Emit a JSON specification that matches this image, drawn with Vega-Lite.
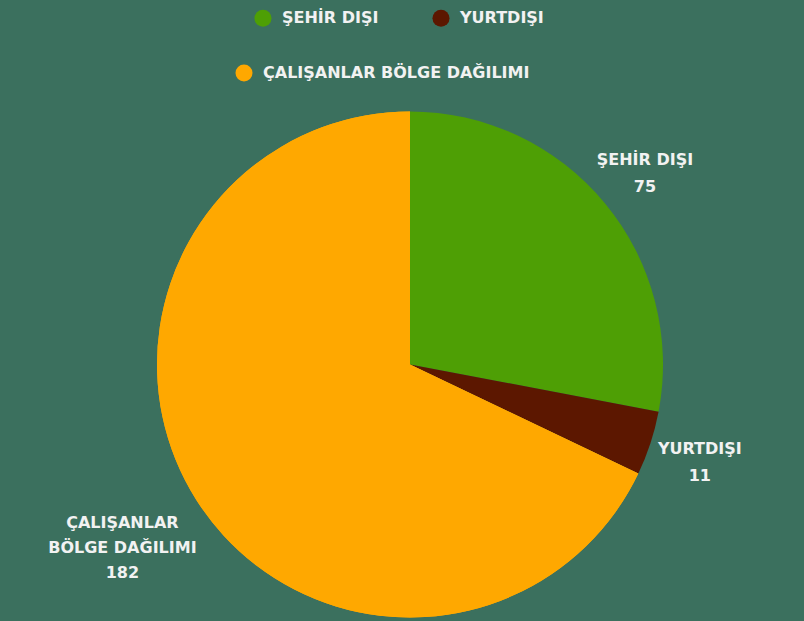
{
  "$schema": "https://vega.github.io/schema/vega-lite/v6.json",
  "width": 788,
  "height": 513,
  "autosize": "none",
  "padding": {"left": 16, "top": 108, "right": 0, "bottom": 0},
  "background": "#3b705e",
  "config": {"view": {"stroke": null}},
  "data": {
    "values": [
      {"name": "ŞEHİR DIŞI", "lbl": "ŞEHİR DIŞI", "value": 75, "ord": 1},
      {"name": "YURTDIŞI", "lbl": "YURTDIŞI", "value": 11, "ord": 2},
      {"name": "ÇALIŞANLAR BÖLGE DAĞILIMI", "lbl": "ÇALIŞANLAR\nBÖLGE DAĞILIMI", "value": 182, "ord": 3}
    ]
  },
  "transform": [
    {"calculate": "datum.lbl + '\\n' + datum.value", "as": "label"},
    {"stack": "value", "groupby": [], "sort": [{"field": "ord", "order": "ascending"}], "as": ["t0", "t1"]},
    {"calculate": "(datum.t0 + datum.t1) / 2", "as": "tm"}
  ],
  "layer": [
    {
      "mark": {"type": "arc", "radius": 253},
      "encoding": {
        "theta": {"field": "t0", "type": "quantitative", "scale": {"domain": [0, 268], "zero": true}},
        "theta2": {"field": "t1"},
        "color": {
          "field": "name",
          "type": "nominal",
          "scale": {
            "domain": ["ŞEHİR DIŞI", "YURTDIŞI", "ÇALIŞANLAR BÖLGE DAĞILIMI"],
            "range": ["#4e9f05", "#5c1700", "#ffa800"]
          },
          "legend": {
            "title": null,
            "values": ["ŞEHİR DIŞI", "YURTDIŞI"],
            "orient": "none",
            "legendX": 238,
            "legendY": -99,
            "direction": "horizontal",
            "columnPadding": 53,
            "symbolType": "circle",
            "symbolSize": 290,
            "symbolStrokeWidth": 0,
            "symbolOpacity": 1,
            "labelFont": "DejaVu Sans",
            "labelFontWeight": "bold",
            "labelFontSize": 16,
            "labelColor": "#f2f2f2",
            "labelOffset": 10,
            "labelLimit": 400
          }
        }
      }
    },
    {
      "transform": [{"filter": "datum.ord == 3"}],
      "mark": {"type": "arc", "radius": 253},
      "encoding": {
        "theta": {"field": "t0", "type": "quantitative", "scale": {"domain": [0, 268], "zero": true}},
        "theta2": {"field": "t1"},
        "fill": {
          "field": "name",
          "type": "nominal",
          "scale": {
            "domain": ["ÇALIŞANLAR BÖLGE DAĞILIMI"],
            "range": ["#ffa800"]
          },
          "legend": {
            "title": null,
            "orient": "none",
            "legendX": 219,
            "legendY": -44,
            "direction": "horizontal",
            "symbolType": "circle",
            "symbolSize": 290,
            "symbolStrokeWidth": 0,
            "symbolOpacity": 1,
            "labelFont": "DejaVu Sans",
            "labelFontWeight": "bold",
            "labelFontSize": 16,
            "labelColor": "#f2f2f2",
            "labelOffset": 10,
            "labelLimit": 400
          }
        }
      }
    },
    {
      "transform": [{"filter": "datum.ord < 3"}],
      "mark": {
        "type": "text",
        "radius": 305,
        "dy": -10,
        "font": "DejaVu Sans",
        "fontWeight": "bold",
        "fontSize": 16,
        "color": "#f2f2f2",
        "lineBreak": "\n",
        "lineHeight": 27,
        "align": "center",
        "baseline": "middle"
      },
      "encoding": {
        "theta": {"field": "tm", "type": "quantitative", "scale": {"domain": [0, 268], "zero": true}},
        "text": {"field": "label"}
      }
    },
    {
      "transform": [{"filter": "datum.ord == 3"}],
      "mark": {
        "type": "text",
        "radius": 340,
        "dy": -23,
        "font": "DejaVu Sans",
        "fontWeight": "bold",
        "fontSize": 16,
        "color": "#f2f2f2",
        "lineBreak": "\n",
        "lineHeight": 25,
        "align": "center",
        "baseline": "middle"
      },
      "encoding": {
        "theta": {"field": "tm", "type": "quantitative", "scale": {"domain": [0, 268], "zero": true}},
        "text": {"field": "label"}
      }
    }
  ]
}
